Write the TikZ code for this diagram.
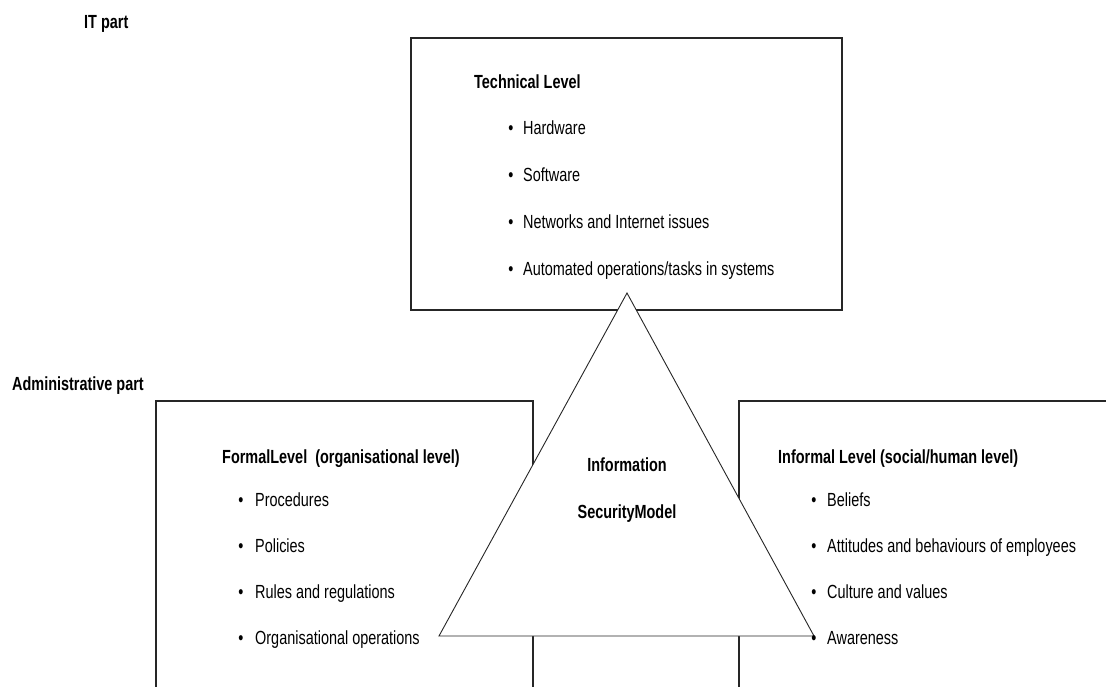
\documentclass[tikz,border=0pt]{standalone}
\usepackage{fontspec}
\setmainfont[FakeStretch=0.76]{Liberation Sans}
\begin{document}
\begin{tikzpicture}[x=1pt,y=-1pt,
  frame/.style={draw=black!85,line width=1.2pt},
  tri/.style={draw=black!85,line width=0.9pt,fill=white,line join=miter},
  lbl/.style={inner sep=0pt,anchor=base west,font=\fontsize{19}{22}\selectfont},
  head/.style={lbl,font=\fontsize{19}{22}\selectfont\bfseries},
  dot/.style={inner sep=0pt,anchor=base,font=\fontsize{19}{22}\selectfont}]
\useasboundingbox (0,0) rectangle (1106,686);
\begin{scope}
\clip (0,0) rectangle (1106,686);
% level boxes
\draw[frame] (411,38) rectangle (842,310);
\draw[frame] (156,401) rectangle (533,700);
\draw[frame] (739,401) rectangle (1120,700);
% central triangle
\coordinate (apex) at (627,293);
\coordinate (bl) at (439,636);
\coordinate (br) at (814,636);
\draw[tri] (apex) -- (bl) -- (br) -- cycle;
\end{scope}
% part captions
\node[head] (itpart) at (84,28) {IT part};
\node[head] (adminpart) at (12,390) {Administrative part};
% technical level
\node[head] (tech) at (474,88) {Technical Level};
\foreach \y/\t [count=\i] in {134/{Hardware},181/{Software},228/{Networks and Internet issues},275/{Automated operations/tasks in systems}}{
  \node[dot] (tb\i) at (511,\y) {\textbullet};
  \node[lbl] (tt\i) at (523,\y) {\t};
}
% formal level
\node[head] (formal) at (222,463) {FormalLevel\ \ (organisational level)};
\foreach \y/\t [count=\i] in {506/{Procedures},552/{Policies},598/{Rules and regulations},644/{Organisational operations}}{
  \node[dot] (fb\i) at (241,\y) {\textbullet};
  \node[lbl] (ft\i) at (255,\y) {\t};
}
% informal level
\node[head] (informal) at (778,463) {Informal Level (social/human level)};
\foreach \y/\t [count=\i] in {506/{Beliefs},552/{Attitudes and behaviours of employees},598/{Culture and values},644/{Awareness}}{
  \node[dot] (ib\i) at (814,\y) {\textbullet};
  \node[lbl] (it\i) at (827,\y) {\t};
}
% model title
\node[dot,font=\fontsize{19}{22}\selectfont\bfseries] (info) at (627,471) {Information};
\node[dot,font=\fontsize{19}{22}\selectfont\bfseries] (secmodel) at (627,518) {SecurityModel};
\end{tikzpicture}
\end{document}
